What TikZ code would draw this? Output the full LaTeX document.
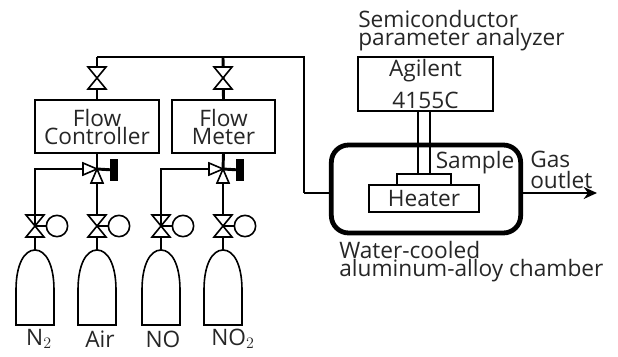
\documentclass[tikz,border=0pt]{standalone}
\usepackage{fontspec}
\setmainfont{Open Sans}
\usetikzlibrary{arrows.meta}

\begin{document}
\begin{tikzpicture}[x=.75pt, y=-.75pt, font=\fontsize{17}{13.5}\selectfont, text=black!85]
  \useasboundingbox (0,0) rectangle (618,357);

  \tikzset{box node/.style={rectangle,draw,line width=1.2pt,inner sep=0pt,align=center}}
  \tikzset{label node/.style={draw=none,inner sep=0pt,align=left}}
  \tikzset{pipe/.style={line width=2.2pt}}
  \tikzset{thin part/.style={line width=1.2pt,fill=white}}
  \tikzset{valve/.pic={
    \draw[thin part] (-9,-11) -- (9,-11) -- (-9,11) -- (9,11) -- cycle;}}
  \tikzset{three way/.pic={
    \draw[thin part] (0,0) -- (-14,-6) -- (-14,6) -- cycle;
    \draw[thin part] (0,0) -- (-6,14) -- (6,14) -- cycle;}}

  % pipes
  \path
    (97,57) coordinate (topleft)
    (223,57) coordinate (topmid)
    (304,57) coordinate (topright)
    (304,193) coordinate (lowright)
    (97,78) coordinate (v1)
    (223,78) coordinate (v2)
    (97,169) coordinate (w1)
    (223,169) coordinate (w2)
    (35,169) coordinate (c1)
    (161,169) coordinate (c2)
    (114,170) coordinate (h1)
    (240,170) coordinate (h2)
    (522,193) coordinate (out1)
    (597,193) coordinate (out2)
  ;

  \path
    (97,126.5) node[box node,minimum width=93pt,minimum height=39.5pt](fc)
      {Flow\\ Controller}
    (223.5,126.5) node[box node,minimum width=77pt,minimum height=39.5pt](fm)
      {Flow\\ Meter}
    (425.5,84) node[box node,minimum width=101pt,minimum height=40.5pt,
      font=\fontsize{17}{24}\selectfont](agilent) {Agilent\\ 4155C}
    (424,179.5) node[box node,minimum width=40.5pt,minimum height=8pt](sample) {}
    (424,198.5) node[box node,minimum width=82.5pt,minimum height=20pt](heater) {Heater}
    (426,189) node[draw,line width=3.6pt,rounded corners=13pt,minimum width=142pt,
      minimum height=66pt,inner sep=0pt](chamber) {}
  ;

  \draw[pipe] (lowright) -- (chamber.west |- lowright);
  \draw[pipe,line join=miter] (topleft) -- (topright) -- (lowright);
  \draw[pipe] (topleft) -- (fc.north);
  \draw[pipe] (topmid) -- (fm.north);
  \draw[pipe] (fc.south) -- (w1);
  \draw[pipe] (fm.south) -- (w2);
  \draw[pipe] (w1) -- (h1);
  \draw[pipe] (w2) -- (h2);

  \foreach \name/\posx/\circx in {a/35/57,b/97/119,c/161/183,d/223/245} {
    \path (\posx,226) coordinate (gv\name) (\posx,250) coordinate (top\name)
      (\circx,226) node[circle,draw,line width=1.2pt,minimum size=16pt,inner sep=0pt](gauge\name) {};
    \draw[pipe] (\posx,169) -- (top\name);
    \draw[pipe] (gv\name) -- (gauge\name);
    \pic at (gv\name) {valve};
    \draw[line width=1.2pt] (top\name) .. controls (\posx-11,250) and (\posx-19,265) .. (\posx-19,290)
      -- (\posx-19,325) -- (\posx+19,325) -- (\posx+19,290)
      .. controls (\posx+19,265) and (\posx+11,250) .. (top\name);
  }
  \draw[pipe,line join=miter] (w1) -- (c1) -- (gva);
  \draw[pipe,line join=miter] (w2) -- (c2) -- (gvc);

  \pic at (v1) {valve};
  \pic at (v2) {valve};
  \pic at (w1) {three way};
  \pic at (w2) {three way};
  \path[fill=black] (110,159) rectangle (118,181);
  \path[fill=black] (236,159) rectangle (244,181);

  \draw[pipe] (418,111) -- (418,174);
  \draw[pipe] (430,111) -- (430,174);
  \draw[line width=1.2pt,-{Stealth[length=10pt,width=9pt]}] (out1) -- (out2);

  % labels
  \path
    (358,19) node[label node,anchor=west](semi) {Semiconductor}
    (358,40) node[label node,anchor=west](param) {parameter analyzer}
    (475,163) node[label node](samplelabel) {Sample}
    (530,159) node[label node,anchor=west](gas) {Gas}
    (530,180) node[label node,anchor=west](outlet) {outlet}
    (339,250) node[label node,anchor=west](water) {Water-cooled}
    (339,271) node[label node,anchor=west](alloy) {aluminum-alloy chamber}
    (39,339) node[label node](n2) {N$_2$}
    (100,339) node[label node](air) {Air}
    (163,339) node[label node](no) {NO}
    (233,339) node[label node](no2) {NO$_2$}
  ;
\end{tikzpicture}
\end{document}
